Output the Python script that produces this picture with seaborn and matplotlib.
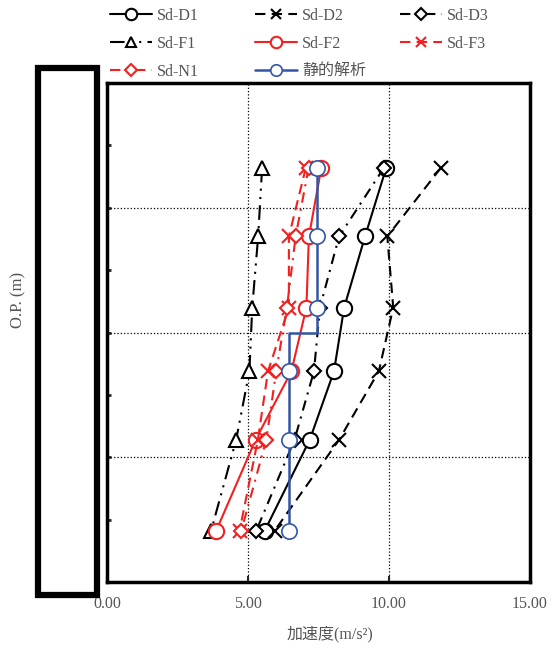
import matplotlib
matplotlib.use("Agg")
import matplotlib.pyplot as plt
from matplotlib.patches import Rectangle
from matplotlib.ticker import MultipleLocator, FormatStrFormatter
import seaborn as sns

# O.P. levels (m) of the output points, top to bottom
levels = [23.2, 17.7, 12.0, 6.9, 1.4, -5.9]

# peak acceleration (m/s2) per case
sd_d1 = [9.90, 9.15, 8.41, 8.05, 7.19, 5.59]
sd_d2 = [11.84, 9.94, 10.15, 9.64, 8.23, 5.94]
sd_d3 = [9.82, 8.23, 7.55, 7.34, 6.65, 5.29]
sd_f1 = [5.50, 5.36, 5.15, 5.05, 4.58, 3.69]
sd_f2 = [7.60, 7.16, 7.07, 6.54, 5.27, 3.87]
sd_f3 = [7.05, 6.45, 6.45, 5.71, 5.35, 4.70]
sd_n1 = [7.15, 6.69, 6.38, 6.00, 5.65, 4.76]
static = [7.45, 7.45, 7.45, 6.45, 6.45, 6.45]
static_step_level = 10.0

x_ticks = [0, 5, 10, 15]

RED = "#f22020"
BLUE = "#3355a5"
TXT = "#555555"

sns.set_theme(style="white")
plt.rcParams["font.family"] = ["Liberation Serif", "Noto Sans CJK JP"]

fig = plt.figure(figsize=(5.53, 6.52), dpi=100)
ax = fig.add_axes([107 / 553, 1 - 582 / 652, 423 / 553, 499 / 652])

series = [
    ("Sd-D1", sd_d1, "black", "-", "o", 11),
    ("Sd-D2", sd_d2, "black", (0, (5, 3)), "x", 10),
    ("Sd-D3", sd_d3, "black", (0, (5, 3, 1, 3)), "D", 7.5),
    ("Sd-F1", sd_f1, "black", (0, (7, 3, 1, 3, 1, 3)), "^", 10),
    ("Sd-F2", sd_f2, RED, "-", "o", 11),
    ("Sd-F3", sd_f3, RED, (0, (5, 3)), "x", 10),
    ("Sd-N1", sd_n1, RED, (0, (5, 3, 1, 3)), "D", 7.5),
]

for label, vals, color, ls, mk, ms in series:
    sns.lineplot(x=vals, y=levels, sort=False, estimator=None, ax=ax,
                 legend=False, label=label, color=color, linestyle=ls,
                 linewidth=1.5, marker=mk, markersize=ms,
                 markerfacecolor="white", markeredgecolor=color,
                 markeredgewidth=1.5)

# static analysis: step profile, value changes at static_step_level
sx, sy, marks = [], [], []
for i, (v, lv) in enumerate(zip(static, levels)):
    if i > 0 and v != static[i - 1]:
        sx += [static[i - 1], v]
        sy += [static_step_level, static_step_level]
    marks.append(len(sx))
    sx.append(v)
    sy.append(lv)
sns.lineplot(x=sx, y=sy, sort=False, estimator=None, ax=ax, legend=False,
             label="静的解析", color=BLUE, linewidth=1.8, marker="o",
             markersize=11, markevery=marks, markerfacecolor="white",
             markeredgecolor=BLUE, markeredgewidth=1.2)

ax.set_xlim(0, 15)
ax.set_ylim(-10, 30)
ax.set_xticks(x_ticks)
ax.xaxis.set_major_formatter(FormatStrFormatter("%.2f"))
ax.yaxis.set_major_locator(MultipleLocator(10))
ax.yaxis.set_minor_locator(MultipleLocator(5))
ax.set_yticklabels([])
ax.grid(True, which="major", color="black", linestyle=":", linewidth=0.9)
ax.tick_params(axis="x", direction="in", length=4, width=1.5, pad=10,
               labelsize=11.5, labelcolor=TXT, bottom=True)
ax.tick_params(axis="y", which="both", direction="in", length=3, width=2,
               left=True)
for sp in ax.spines.values():
    sp.set_color("black")
    sp.set_linewidth(2.5)

ax.set_xlabel("加速度(m/s²)", fontsize=11.5, color=TXT)
ax.xaxis.set_label_coords(0.527, -0.088)
ax.set_ylabel("O.P. (m)", fontsize=12, color=TXT)
ax.yaxis.set_label_coords(-0.19, 0.565)

# thick frame left of the plot
fig.patches.append(Rectangle((38 / 553, 1 - 595 / 652), 59 / 553, 527 / 652,
                             transform=fig.transFigure, fill=False,
                             edgecolor="black", linewidth=4.5, zorder=5))

handles, labels = ax.get_legend_handles_labels()
if ax.get_legend() is not None:
    ax.get_legend().remove()
lookup = dict(zip(labels, handles))
columns = [["Sd-D1", "Sd-F1", "Sd-N1"],
           ["Sd-D2", "Sd-F2", "静的解析"],
           ["Sd-D3", "Sd-F3"]]
col_x = [110, 255, 400]
for names, cx in zip(columns, col_x):
    leg = fig.legend([lookup[n] for n in names], names, loc="upper left",
                     bbox_to_anchor=(cx / 553, 1 - 8 / 652), frameon=False,
                     fontsize=11.5, handlelength=2.6, handletextpad=0.35,
                     labelspacing=0.75, borderpad=0, borderaxespad=0,
                     numpoints=1, markerscale=0.75)
    for t in leg.get_texts():
        t.set_color(TXT)

fig.savefig("out.png", dpi=100)
